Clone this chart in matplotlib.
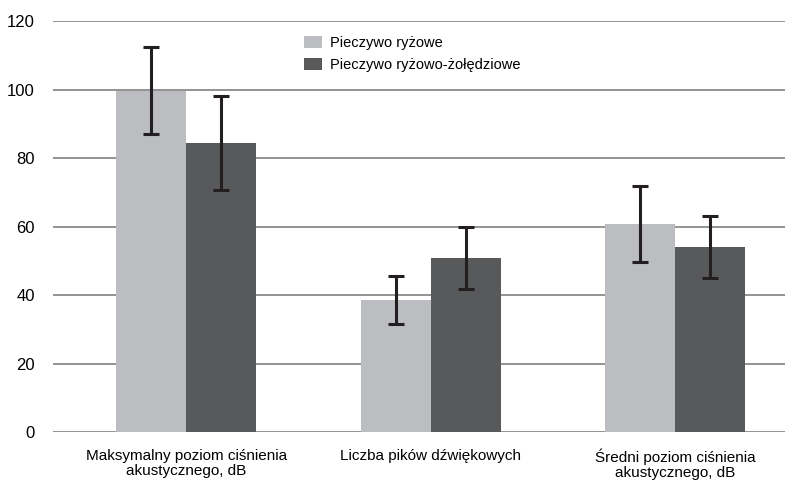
import numpy as np
import matplotlib.pyplot as plt

plt.rcParams['font.family'] = ['Liberation Sans', 'DejaVu Sans']

categories = ["Maksymalny poziom ciśnienia\nakustycznego, dB",
              "Liczba pików dźwiękowych",
              "Średni poziom ciśnienia\nakustycznego, dB"]
rice = [99.6, 38.5, 60.7]
rice_err = [12.7, 7.0, 11.0]
rice_acorn = [84.4, 50.8, 54.0]
rice_acorn_err = [13.6, 9.0, 9.0]

x = np.arange(len(categories))
w = 0.287

fig = plt.figure(figsize=(7.89, 4.8), dpi=100)
ax = fig.add_axes([53 / 789, 48 / 480, 732 / 789, 411 / 480])

ax.yaxis.grid(True, color="#808080", linewidth=1.2)
ax.set_axisbelow(True)

err_kw = dict(ecolor="#231F20", elinewidth=2.2, capsize=6, capthick=2.2)
ax.bar(x - w / 2, rice, w, yerr=rice_err, color="#BCBDC0",
       label="Pieczywo ryżowe", error_kw=err_kw)
ax.bar(x + w / 2, rice_acorn, w, yerr=rice_acorn_err, color="#58595B",
       label="Pieczywo ryżowo-żołędziowe", error_kw=err_kw)

ax.set_xlim(-0.545, 2.449)
ax.set_ylim(0, 120)
ax.set_yticks(range(0, 121, 20))
ax.set_xticks(x)
ax.set_xticklabels(categories, fontsize=11, linespacing=1.1)
ax.tick_params(axis="y", labelsize=12, length=0, pad=13)
ax.tick_params(axis="x", length=0, pad=12)
for s in ax.spines.values():
    s.set_visible(False)

ax.legend(loc="upper left", bbox_to_anchor=(0.325, 0.995), frameon=False,
          fontsize=10.5, handlelength=1.2, handleheight=0.85, labelspacing=0.55,
          handletextpad=0.55)

fig.savefig("out.png", dpi=100)
